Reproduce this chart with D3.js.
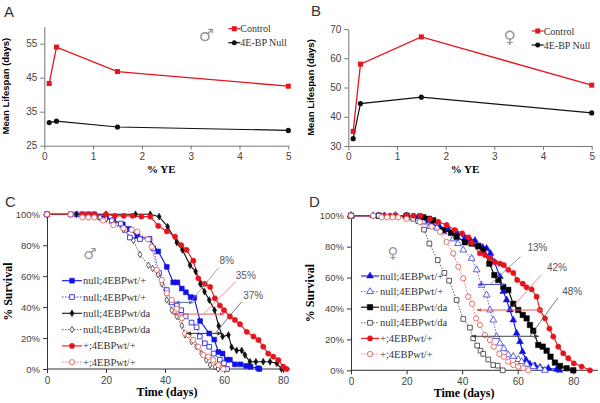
<!DOCTYPE html>
<html><head><meta charset="utf-8">
<script src="https://cdn.jsdelivr.net/npm/d3@7"></script>
<style>body{margin:0;background:#fff}svg{display:block}</style>
</head><body>
<svg id="c" width="600" height="403"></svg>
<script>
// ---------- DATA ----------
const ye = [0.1, 0.25, 1.5, 5];
const aControl = [43.3, 54.0, 46.8, 42.5];
const aNull = [31.8, 32.2, 30.5, 29.5];
const bControl = [35.0, 58.0, 67.3, 50.8];
const bNull = [32.5, 44.5, 46.7, 41.3];
const abLegend = ["Control", "4E-BP Null"];
const aYTicks = [25, 35, 45, 55];
const bYTicks = [30, 40, 50, 60, 70];
const xTicksYE = [0, 1, 2, 3, 4, 5];
const survTicksX = [0, 20, 40, 60, 80];
const survTicksY = [0, 20, 40, 60, 80, 100];
const survLegend = ["null;4EBPwt/+", "null;4EBPwt/+", "null;4EBPwt/da", "null;4EBPwt/da", "+;4EBPwt/+", "+;4EBPwt/+"];

// Panel C (males) [day, % survival]
const cNullWtPlus = [[0,100],[8,100],[12,100],[14,100],[16,100],[20,98],[22.5,96],[25.7,93.5],[27.9,90.5],[30.6,86],[34.7,84],[37.7,76],[40.6,66],[42.8,56],[44.2,56],[45.7,52],[47.1,49.6],[48.7,46.5],[49.9,46],[51.9,31],[55,23],[56.7,19],[58.1,11],[59.5,10],[60.9,6],[62,6],[63.7,3],[65.6,3],[67.5,2],[69,1.5],[71.6,0.5],[72,0]];
const cNullWtPlusDot = [[0,100],[10,100],[14,99],[18,98],[22,96],[25,94],[26.5,90],[28.1,85],[31.5,84],[34.7,84],[36,78],[38,62],[40.6,51],[42.3,43],[44,41],[45.5,38],[47,34],[49,30],[50.7,27],[51.8,21],[53.5,16.6],[55,14.4],[56.5,10],[58.6,6],[60,3.7],[61,0]];
const cNullWtDa = [[0,100],[10,100],[20,100],[30,100],[35,100],[38,98.5],[40.9,92],[44,81.7],[45.9,77],[48.5,67],[50.4,63],[52,55],[53.4,50],[55,44.6],[56.8,38],[58.2,27.8],[59.5,21],[61.5,22],[62.6,14],[64.3,12],[66,12],[67.1,9],[68.8,4.7],[70.8,4.7],[73.3,4.7],[75.6,4.7],[77.9,3.7],[79.5,0]];
const cNullWtDaDot = [[0,100],[8,100],[14,99],[18,98],[20,97],[22.8,94],[25.9,90],[29.3,83],[31.5,74],[34.4,67],[35.8,65],[37.7,61],[38.9,55],[40.6,44.6],[42.3,38],[44,34],[45.7,28],[46.8,22],[49,17.7],[50.7,14.4],[52.4,10],[54,5.8],[55.3,2.6],[57,1.5],[58,0]];
const cWtPlus = [[0,100],[12,100],[14,100],[16,100],[20,100],[23,99],[26,99],[29,99],[32,98.5],[35,98.5],[37.7,92.5],[40.6,89],[43.4,85.6],[45.5,80],[47.3,77],[49.6,70],[51.3,58.6],[53.5,55],[55.3,53],[56.9,45.7],[58.6,41],[60,38],[62,34],[63.7,31.7],[65.4,29],[67.7,24],[70,21],[71.7,18.8],[73.3,14.4],[75,10],[76.7,8],[78.4,5.8],[80.1,1.5],[81.2,0]];
const cWtPlusDot = [[0,100],[8,100],[12,98],[14,98],[16,98],[19,96],[22.5,93],[25.9,91],[28.7,90],[30.6,88.8],[34.2,83.8],[35.5,79],[37.2,64],[38.9,57.5],[40.6,49],[42.3,44.6],[44,39],[45.7,32.8],[46.8,23],[48,22],[49.6,18.8],[51.3,14.4],[53,9],[54.7,8],[56.4,5.8],[58.1,2.6],[59.8,0]];

// Panel D (females)
const dNullWtPlus = [[0,100],[8,100],[12,100],[16,100],[20,100],[24,99],[26,96],[29,95],[32,92.5],[35,91],[38,89],[41,85.6],[42.8,84.7],[44.6,84],[46.4,80],[47.4,79.5],[48.8,78.9],[50.2,75.6],[51.6,70],[53.6,60.6],[54.8,51],[56,45.5],[57.2,39],[58.4,32.5],[59.6,24],[60.8,18.5],[61.7,12],[63,6.7],[64.4,4],[66.2,3],[68,2],[71,1.3],[74,0.6],[75,0]];
const dNullWtPlusDot = [[0,100],[10,100],[16,100],[22,99],[26,96],[28.4,93],[31,92],[33.2,89.6],[36.8,85],[38.5,82],[40.4,77.8],[43.4,72.4],[45.2,65],[47,55],[48.8,48.7],[50,39],[51.2,32.5],[52.4,21.8],[53.6,17.5],[55,14],[56.6,10],[58.4,9],[60.2,7],[61.4,5.6],[63.2,4],[65.6,2.4],[68,1.3],[69.8,0]];
const dNullWtDa = [[0,100],[10,100],[20,100],[26,99],[28,98],[29.6,97],[33.2,90.7],[36,89],[38,86.4],[41,82.8],[43.4,82],[45.8,80.4],[47.6,77.8],[49.8,69],[51.6,61.6],[53,58.4],[54.8,54],[56.6,52],[58.4,43],[60.2,39],[61.8,35.8],[63.2,33.6],[64.4,29.3],[65.6,25.6],[67.4,16.4],[69,15.3],[70.4,12.7],[71.8,8.8],[73.4,5],[75.2,2.8],[77.6,1.3],[80,0]];
const dNullWtDaDot = [[0,100],[10,100],[16,100],[20,99],[22.4,98],[24.2,96.5],[26.3,91],[28.2,82],[31.2,71.3],[33.6,63],[35.3,58],[38,45.5],[40.4,33.2],[42.8,27.6],[44,20.7],[45.4,16],[46.6,12.7],[47.6,10.6],[49.4,7],[51.2,3.4],[52.8,3],[54.6,0]];
const dWtPlus = [[0,100],[8,100],[12,100],[14,100],[16,100],[20,100],[22.5,100],[25,100],[28.4,97.8],[31.4,96],[34.4,94],[37.4,90.7],[40,88.6],[42.2,86],[43.4,82.5],[46.4,75.6],[48.2,74.6],[50,72.8],[51.8,70],[53.6,69],[55,68],[56.6,65],[58.4,63],[59.8,58.4],[61.8,56],[63.2,53.7],[65,52.4],[66.8,47.6],[68,39],[69.8,33.6],[71.4,27],[72.8,21.8],[74.6,15.3],[76.4,11],[78.2,7.8],[80.2,4.5],[83,2.4],[86,0]];
const dWtPlusDot = [[0,100],[8,100],[11,99],[13,99],[15,99],[17,99],[20,98],[24.8,96],[29,93],[32,89.6],[34.4,83],[36.8,75.6],[38.6,67],[40.4,59.5],[42.2,47.6],[43.6,43],[45,33.6],[46.4,29.3],[48.2,22.8],[50,19.6],[51.4,15.3],[53.4,10.6],[55,8.8],[56.6,5.6],[58.4,3.4],[60.2,2.4],[62,1.3],[63.8,0]];

// annotations: label, arrow pct, arrow from/to day, text day/pct, leader start day/pct, leader end day
const cNotes = [
  {label:"8%", pct:43, d0:43.4, d1:49.6, tx:58.5, ty:68, lx:58.2, ly:65.5, le:48.5},
  {label:"35%", pct:35.5, d0:42.5, d1:60, tx:64, ty:58.5, lx:64, ly:56.5, le:53},
  {label:"37%", pct:23, d0:47.3, d1:59.3, tx:66.5, ty:45.5, lx:66, ly:43.5, le:57}
];
const dNotes = [
  {label:"13%", pct:55.5, d0:45.7, d1:55.4, tx:63.5, ty:77, lx:61, ly:73.5, le:50},
  {label:"42%", pct:39, d0:45.3, d1:69, tx:70.5, ty:64, lx:68.3, ly:61.5, le:57.2},
  {label:"48%", pct:22, d0:43.5, d1:67.6, tx:76, ty:49, lx:74.5, ly:47, le:64.4}
];

// ---------- DRAW ----------
const svg = d3.select("#c");
const SANS = "'Liberation Sans', Arial, sans-serif";
const SERIF = "'Liberation Serif', 'Times New Roman', serif";
const RED = "#e8141c", BLUE = "#1010e8";

svg.append("defs").html(`
<marker id="ah" viewBox="0 0 10 10" refX="9" refY="5" markerWidth="5" markerHeight="5" orient="auto-start-reverse"><path d="M0,1L10,5L0,9z" fill="context-stroke"/></marker>`);

function letter(t, x, y) {
  svg.append("text").attr("x", x).attr("y", y).text(t)
    .attr("font-family", SANS).attr("font-size", 15).attr("fill", "#333");
}
letter("A", 4, 17); letter("B", 311, 16); letter("C", 5, 207); letter("D", 309, 207);

function styleAxis(g, col) {
  g.selectAll("path").attr("stroke", col);
  g.selectAll("line").attr("stroke", col);
  g.selectAll("text").attr("font-family", SANS).attr("font-size", 10).attr("fill", "#444");
}

function yePanel(xr, yd, yr, yTicks, ctrl, nul, sym, ylabX) {
  const x = d3.scaleLinear().domain([0, 5]).range(xr);
  const y = d3.scaleLinear().domain(yd).range(yr);
  const gx = svg.append("g").attr("transform", `translate(0,${yr[0]})`)
    .call(d3.axisBottom(x).tickValues(xTicksYE).tickFormat(d3.format("d")).tickSize(4).tickSizeOuter(0).tickPadding(3));
  styleAxis(gx, "#777");
  const gy = svg.append("g").attr("transform", `translate(${xr[0]},0)`)
    .call(d3.axisLeft(y).tickValues(yTicks).tickFormat(d3.format("d")).tickSize(4).tickSizeOuter(0).tickPadding(3));
  styleAxis(gy, "#777");
  const line = d3.line().x((d, i) => x(ye[i])).y(d => y(d));
  svg.append("path").attr("d", line(ctrl)).attr("fill", "none").attr("stroke", RED).attr("stroke-width", 1.3);
  svg.append("path").attr("d", line(nul)).attr("fill", "none").attr("stroke", "#111").attr("stroke-width", 1.2);
  ctrl.forEach((v, i) => svg.append("rect").attr("x", x(ye[i]) - 2.5).attr("y", y(v) - 2.5).attr("width", 5).attr("height", 5).attr("fill", RED));
  nul.forEach((v, i) => svg.append("circle").attr("cx", x(ye[i])).attr("cy", y(v)).attr("r", 2.6).attr("fill", "#111"));
  // axis labels
  svg.append("text").attr("x", (xr[0] + xr[1]) / 2 - 5).attr("y", yr[0] + 27).attr("text-anchor", "middle")
    .attr("font-family", SERIF).attr("font-weight", "bold").attr("font-size", 11).text("% YE");
  svg.append("text").attr("transform", `translate(${ylabX},${(yr[0] + yr[1]) / 2}) rotate(-90)`).attr("text-anchor", "middle")
    .attr("font-family", SANS).attr("font-weight", "bold").attr("font-size", 9.5).text("Mean Lifespan (days)");
  // legend
  const lx = xr[1] - 60;
  abLegend.forEach((t, i) => {
    const ly = yr[1] + 2 + i * 14;
    svg.append("line").attr("x1", lx).attr("x2", lx + 12).attr("y1", ly).attr("y2", ly)
      .attr("stroke", i ? "#111" : RED).attr("stroke-width", 1.2);
    if (i) svg.append("circle").attr("cx", lx + 6).attr("cy", ly).attr("r", 2.5).attr("fill", "#111");
    else svg.append("rect").attr("x", lx + 3.5).attr("y", ly - 2.5).attr("width", 5).attr("height", 5).attr("fill", RED);
    svg.append("text").attr("x", lx + 12).attr("y", ly + 3.5).attr("font-family", SERIF).attr("font-size", 10)
      .attr("fill", "#333").text(t);
  });
  svg.append("text").attr("x", lx - 22).attr("y", yr[1] + 14).attr("text-anchor", "middle")
    .attr("font-family", "'DejaVu Sans', sans-serif").attr("font-size", 17).attr("fill", "#999").text(sym);
}

yePanel([44.3, 288.3], [25, 60], [145.7, 26.7], aYTicks, aControl, aNull, "\u2642", 9);
yePanel([348.3, 591.7], [30, 70], [146, 29], bYTicks, bControl, bNull, "\u2640", 314);

function survPanel(opt) {
  const x = d3.scaleLinear().domain([0, 80]).range(opt.xr);
  const y = d3.scaleLinear().domain([0, 100]).range(opt.yr);
  const gx = svg.append("g").attr("transform", `translate(0,${opt.yr[0]})`)
    .call(d3.axisBottom(x).tickValues(survTicksX).tickSize(4).tickSizeOuter(0).tickPadding(4));
  gx.select("path.domain").attr("d", `M${opt.xr[0]},0H${opt.axEnd}`);
  styleAxis(gx, "#333");
  const gy = svg.append("g").attr("transform", `translate(${opt.xr[0]},0)`)
    .call(d3.axisLeft(y).tickValues(survTicksY).tickSize(4).tickSizeOuter(0).tickPadding(3).tickFormat(d => d + "%"));
  styleAxis(gy, "#333");
  gy.selectAll("text").attr("font-size", 9.5);

  svg.append("text").attr("x", (opt.xr[0] + opt.xr[1]) / 2 + 2).attr("y", opt.yr[0] + 27).attr("text-anchor", "middle")
    .attr("font-family", SERIF).attr("font-weight", "bold").attr("font-size", 12).text("Time (days)");
  svg.append("text").attr("transform", `translate(${opt.ylabX},${(opt.yr[0] + opt.yr[1]) / 2}) rotate(-90)`).attr("text-anchor", "middle")
    .attr("font-family", SERIF).attr("font-weight", "bold").attr("font-size", 12).text("% Survival");

  const line = d3.line().x(d => x(d[0])).y(d => y(d[1]));
  const series = opt.series;
  series.forEach(s => {
    svg.append("path").attr("d", line(s.data)).attr("fill", "none").attr("stroke", s.color)
      .attr("stroke-width", s.dot ? 0.8 : 1.1).attr("stroke-dasharray", s.dot ? "1.5,1.5" : null);
  });
  function mark(g, s, cx, cy) {
    g.append("path").attr("transform", `translate(${cx},${cy})`)
      .attr("d", d3.symbol().type(s.sym).size(s.size)())
      .attr("fill", s.open ? "#fff" : s.color).attr("stroke", s.color).attr("stroke-width", s.open ? 0.8 : 0.5);
  }
  series.forEach(s => {
    s.data.forEach(d => { if (d[0] > 0) mark(svg, s, x(d[0]), y(d[1])); });
  });
  series.forEach(s => mark(svg, s, x(0), y(100)));

  opt.notes.forEach((n, i) => {
    const col = opt.noteColors[i];
    svg.append("line").attr("x1", x(n.d0)).attr("x2", x(n.d1)).attr("y1", y(n.pct)).attr("y2", y(n.pct))
      .attr("stroke", col).attr("stroke-width", 1).attr("marker-start", "url(#ah)").attr("marker-end", "url(#ah)");
    svg.append("line").attr("x1", x(n.lx)).attr("y1", y(n.ly)).attr("x2", x(n.le)).attr("y2", y(n.pct))
      .attr("stroke", opt.leaderColors[i]).attr("stroke-width", 0.8);
    svg.append("text").attr("x", x(n.tx)).attr("y", y(n.ty)).attr("font-family", SANS).attr("font-size", 10)
      .attr("fill", "#555").text(n.label);
  });

  series.forEach((s, i) => {
    const ly = opt.legY + i * opt.legStep;
    svg.append("line").attr("x1", opt.legX).attr("x2", opt.legX + opt.legW).attr("y1", ly).attr("y2", ly)
      .attr("stroke", s.color).attr("stroke-width", s.dot ? 0.8 : 1.1).attr("stroke-dasharray", s.dot ? "1.5,1.5" : null);
    mark(svg, s, opt.legX + opt.legW / 2, ly);
    svg.append("text").attr("x", opt.legX + opt.legW + 1).attr("y", ly + 3.5).attr("font-family", SERIF)
      .attr("font-size", 10.5).attr("fill", "#333").text(survLegend[i]);
  });
  svg.append("text").attr("x", opt.symX).attr("y", opt.symY).attr("text-anchor", "middle")
    .attr("font-family", "'DejaVu Sans', sans-serif").attr("font-size", 15).attr("fill", "#999").text(opt.sym);
}

survPanel({
  xr: [47, 283], axEnd: 290, yr: [369, 214.3], ylabX: 12,
  series: [
    {data: cNullWtPlus, color: BLUE, sym: d3.symbolSquare, size: 24, open: false, dot: false},
    {data: cNullWtPlusDot, color: BLUE, sym: d3.symbolSquare, size: 22, open: true, dot: true},
    {data: cNullWtDa, color: "#111", sym: d3.symbolDiamond, size: 14, open: false, dot: false},
    {data: cNullWtDaDot, color: "#333", sym: d3.symbolDiamond, size: 12, open: true, dot: true},
    {data: cWtPlus, color: RED, sym: d3.symbolCircle, size: 22, open: false, dot: false},
    {data: cWtPlusDot, color: "#e05050", sym: d3.symbolCircle, size: 22, open: true, dot: true}
  ],
  notes: cNotes, noteColors: ["#6070b0", "#e06060", "#333"], leaderColors: ["#8a8aa0", "#e07070", "#555"],
  legX: 62, legW: 20, legY: 280.7, legStep: 16.3, sym: "\u2642", symX: 90, symY: 259
});
survPanel({
  xr: [351, 573.3], axEnd: 598, yr: [370.3, 215.7], ylabX: 314,
  series: [
    {data: dNullWtPlus, color: BLUE, sym: d3.symbolTriangle, size: 20, open: false, dot: false},
    {data: dNullWtPlusDot, color: "#3a3ae0", sym: d3.symbolTriangle, size: 20, open: true, dot: true},
    {data: dNullWtDa, color: "#000", sym: d3.symbolSquare, size: 30, open: false, dot: false},
    {data: dNullWtDaDot, color: "#333", sym: d3.symbolSquare, size: 22, open: true, dot: true},
    {data: dWtPlus, color: RED, sym: d3.symbolCircle, size: 22, open: false, dot: false},
    {data: dWtPlusDot, color: "#e05050", sym: d3.symbolCircle, size: 22, open: true, dot: true}
  ],
  notes: dNotes, noteColors: ["#4a4ac0", "#e05050", "#444"], leaderColors: ["#7a7aa0", "#e07070", "#555"],
  legX: 361, legW: 18, legY: 276, legStep: 15.6, sym: "\u2640", symX: 393, symY: 258
});
</script>
</body></html>
